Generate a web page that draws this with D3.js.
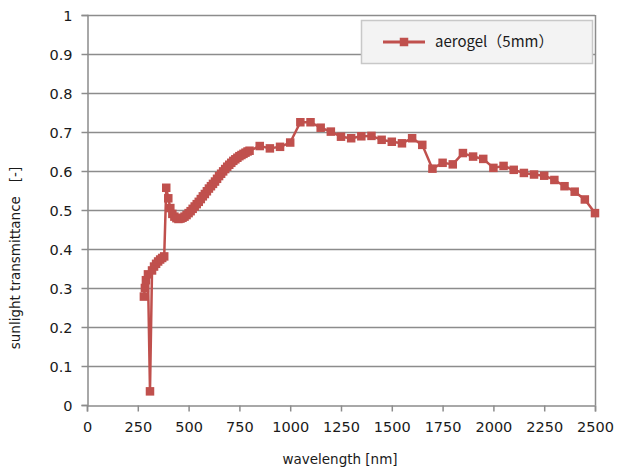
<!DOCTYPE html>
<html>
<head>
<meta charset="utf-8">
<script src="https://cdn.jsdelivr.net/npm/d3@7"></script>
<style>
html,body{margin:0;padding:0;background:#fff;}
svg{display:block;}
</style>
</head>
<body>
<svg id="chart" width="618" height="468"></svg>
<script>
// Data
const wavelength = [280,285,290,300,310,320,330,340,350,360,370,380,
  390,400,410,420,430,440,450,460,470,480,490,500,510,520,530,540,550,560,570,580,590,600,
  610,620,630,640,650,660,670,680,690,700,710,720,730,740,750,760,770,780,790,800,
  850,900,950,1000,1050,1100,1150,1200,1250,1300,1350,1400,1450,1500,1550,1600,1650,
  1700,1750,1800,1850,1900,1950,2000,2050,2100,2150,2200,2250,2300,2350,2400,2450,2500];
const transmittance = [0.278,0.30,0.32,0.335,0.035,0.345,0.355,0.362,0.368,0.373,0.377,0.381,
  0.557,0.53,0.505,0.49,0.483,0.479,0.477,0.478,0.48,0.483,0.487,0.492,0.497,0.503,0.509,0.515,0.521,0.528,0.535,0.541,0.548,0.555,
  0.561,0.567,0.573,0.58,0.587,0.593,0.599,0.605,0.611,0.616,0.621,0.626,0.63,0.634,0.638,0.641,0.644,0.647,0.65,0.652,
  0.664,0.658,0.662,0.673,0.725,0.725,0.711,0.701,0.688,0.684,0.689,0.69,0.68,0.675,0.671,0.684,0.667,
  0.606,0.621,0.617,0.646,0.637,0.631,0.608,0.613,0.603,0.595,0.591,0.588,0.577,0.561,0.547,0.527,0.492];
const xTicks = [0,250,500,750,1000,1250,1500,1750,2000,2250,2500];
const yTicks = [0,0.1,0.2,0.3,0.4,0.5,0.6,0.7,0.8,0.9,1];
const seriesName = "aerogel（5mm）";
const xTitle = "wavelength [nm]";
const yTitle = "sunlight transmittance";
const yUnit = "[-]";

const svg = d3.select("#chart");
const L = 87, R = 595, T = 15, B = 405;
const x = d3.scaleLinear().domain([0,2500]).range([L,R]);
const y = d3.scaleLinear().domain([0,1]).range([B,T]);
const red = "#c0504d";
const gridCol = "#8c8c8c";
const font = "'DejaVu Sans', sans-serif";
const cjk = "'Noto Sans CJK SC', sans-serif";

// gridlines
svg.append("g").selectAll("line").data(yTicks.filter(d=>d>0)).join("line")
  .attr("x1",L).attr("x2",R).attr("y1",d=>y(d)+0.5).attr("y2",d=>y(d)+0.5)
  .attr("stroke",gridCol).attr("stroke-width",1.5);
// right border
svg.append("line").attr("x1",R+0.5).attr("x2",R+0.5).attr("y1",T).attr("y2",B)
  .attr("stroke",gridCol).attr("stroke-width",1.5);

// axes
const xAxis = svg.append("g").attr("transform",`translate(0,${B+0.5})`)
  .call(d3.axisBottom(x).tickValues(xTicks).tickSize(6).tickPadding(10).tickFormat(d3.format("d")));
const yAxis = svg.append("g").attr("transform",`translate(${L+0.5},0)`)
  .call(d3.axisLeft(y).tickValues(yTicks).tickSize(6).tickPadding(9).tickFormat(d=>d===0?"0":d===1?"1":d3.format(".1f")(d)));
[xAxis,yAxis].forEach(a=>{
  a.select(".domain").attr("stroke",gridCol).attr("stroke-width",1.5);
  a.selectAll(".tick line").attr("stroke",gridCol).attr("stroke-width",1.5);
  a.selectAll(".tick text").attr("fill","#1a1a1a").style("font-family",font).style("font-size","14.5px");
});
yAxis.selectAll(".tick text").attr("dy","0.36em");

// axis titles
svg.append("text").attr("x",340).attr("y",464).attr("text-anchor","middle")
  .style("font-family",font).style("font-size","13.5px").attr("fill","#1a1a1a").text(xTitle);
const yt = svg.append("text").attr("transform",`translate(20,${258}) rotate(-90)`).attr("text-anchor","middle")
  .style("font-family",font).style("font-size","13.5px").attr("fill","#1a1a1a");
yt.append("tspan").text(yTitle);
yt.append("tspan").attr("dx",14).text(yUnit);

// series
const data = wavelength.map((w,i)=>({w, v: transmittance[i]}));
svg.append("path").datum(data)
  .attr("d", d3.line().x(d=>x(d.w)).y(d=>y(d.v)))
  .attr("fill","none").attr("stroke",red).attr("stroke-width",2.5).attr("stroke-linejoin","round");
const ms = 8.5;
svg.append("g").selectAll("rect").data(data).join("rect")
  .attr("x",d=>x(d.w)-ms/2).attr("y",d=>y(d.v)-ms/2).attr("width",ms).attr("height",ms)
  .attr("fill",red);

// legend
const lg = svg.append("g");
lg.append("rect").attr("x",361.5).attr("y",20.5).attr("width",231).attr("height",43)
  .attr("fill","#f3f3f3").attr("stroke","#c8c8c8").attr("stroke-width",1.5);
lg.append("line").attr("x1",383).attr("x2",425).attr("y1",42).attr("y2",42)
  .attr("stroke",red).attr("stroke-width",3);
lg.append("rect").attr("x",404-ms/2).attr("y",42-ms/2).attr("width",ms).attr("height",ms).attr("fill",red);
lg.append("text").attr("x",435).attr("y",42).attr("dy","0.36em")
  .style("font-family",cjk).style("font-size","15px").attr("fill","#1a1a1a").text(seriesName);
</script>
</body>
</html>
